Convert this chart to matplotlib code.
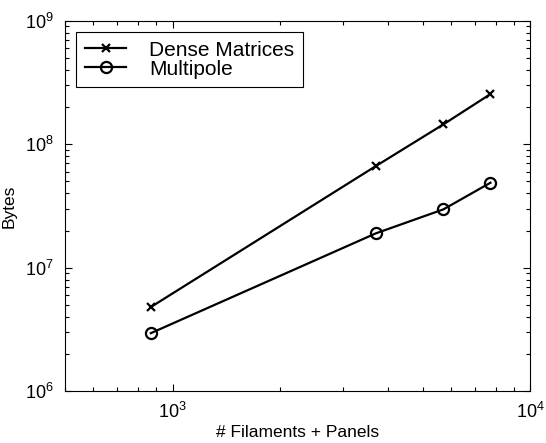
import matplotlib.pyplot as plt
from matplotlib.ticker import LogLocator, NullFormatter

plt.rcParams['font.family'] = ['Liberation Sans', 'DejaVu Sans']
plt.rcParams['mathtext.fontset'] = 'custom'
plt.rcParams['mathtext.rm'] = 'Liberation Sans'
plt.rcParams['mathtext.it'] = 'Liberation Sans'

# problem sizes (filaments + panels) and memory use
sizes = [869, 3705, 5720, 7742]
dense_bytes = [4.8e6, 6.67e7, 1.45e8, 2.55e8]
multipole_bytes = [2.95e6, 1.90e7, 2.97e7, 4.88e7]

fig = plt.figure(figsize=(5.46, 4.43), dpi=100)
ax = fig.add_axes([0.119, 0.117, 0.852, 0.836])

ax.plot(sizes, dense_bytes, color='black', lw=1.6, marker='x', ms=6,
        mew=1.6, label='Dense Matrices')
ax.plot(sizes, multipole_bytes, color='black', lw=1.6, marker='o', ms=8,
        mew=1.6, mfc='none', label='Multipole')

ax.set_xscale('log')
ax.set_yscale('log')
ax.set_xlim(500, 1e4)
ax.set_ylim(1e6, 1e9)
ax.xaxis.set_major_locator(LogLocator(base=10, numticks=10))
ax.yaxis.set_major_locator(LogLocator(base=10, numticks=10))
ax.xaxis.set_minor_locator(LogLocator(base=10, subs=range(2, 10), numticks=10))
ax.yaxis.set_minor_locator(LogLocator(base=10, subs=range(2, 10), numticks=10))
ax.xaxis.set_minor_formatter(NullFormatter())
ax.yaxis.set_minor_formatter(NullFormatter())

ax.tick_params(which='both', direction='in', top=True, right=True,
               labelsize=13, width=0.8)
ax.tick_params(which='major', length=5, pad=8)
ax.tick_params(which='minor', length=3)
for s in ax.spines.values():
    s.set_linewidth(0.8)

ax.set_xlabel('# Filaments + Panels', fontsize=12.5, labelpad=2)
ax.set_ylabel('Bytes', fontsize=12.5, labelpad=6)

leg = ax.legend(loc='upper left', fontsize=15, fancybox=False,
                edgecolor='black', framealpha=1, handlelength=2.0,
                handletextpad=1.1, borderaxespad=0.55, labelspacing=0.0,
                borderpad=0.4)
leg.get_frame().set_linewidth(0.8)

fig.savefig('out.png', dpi=100)
